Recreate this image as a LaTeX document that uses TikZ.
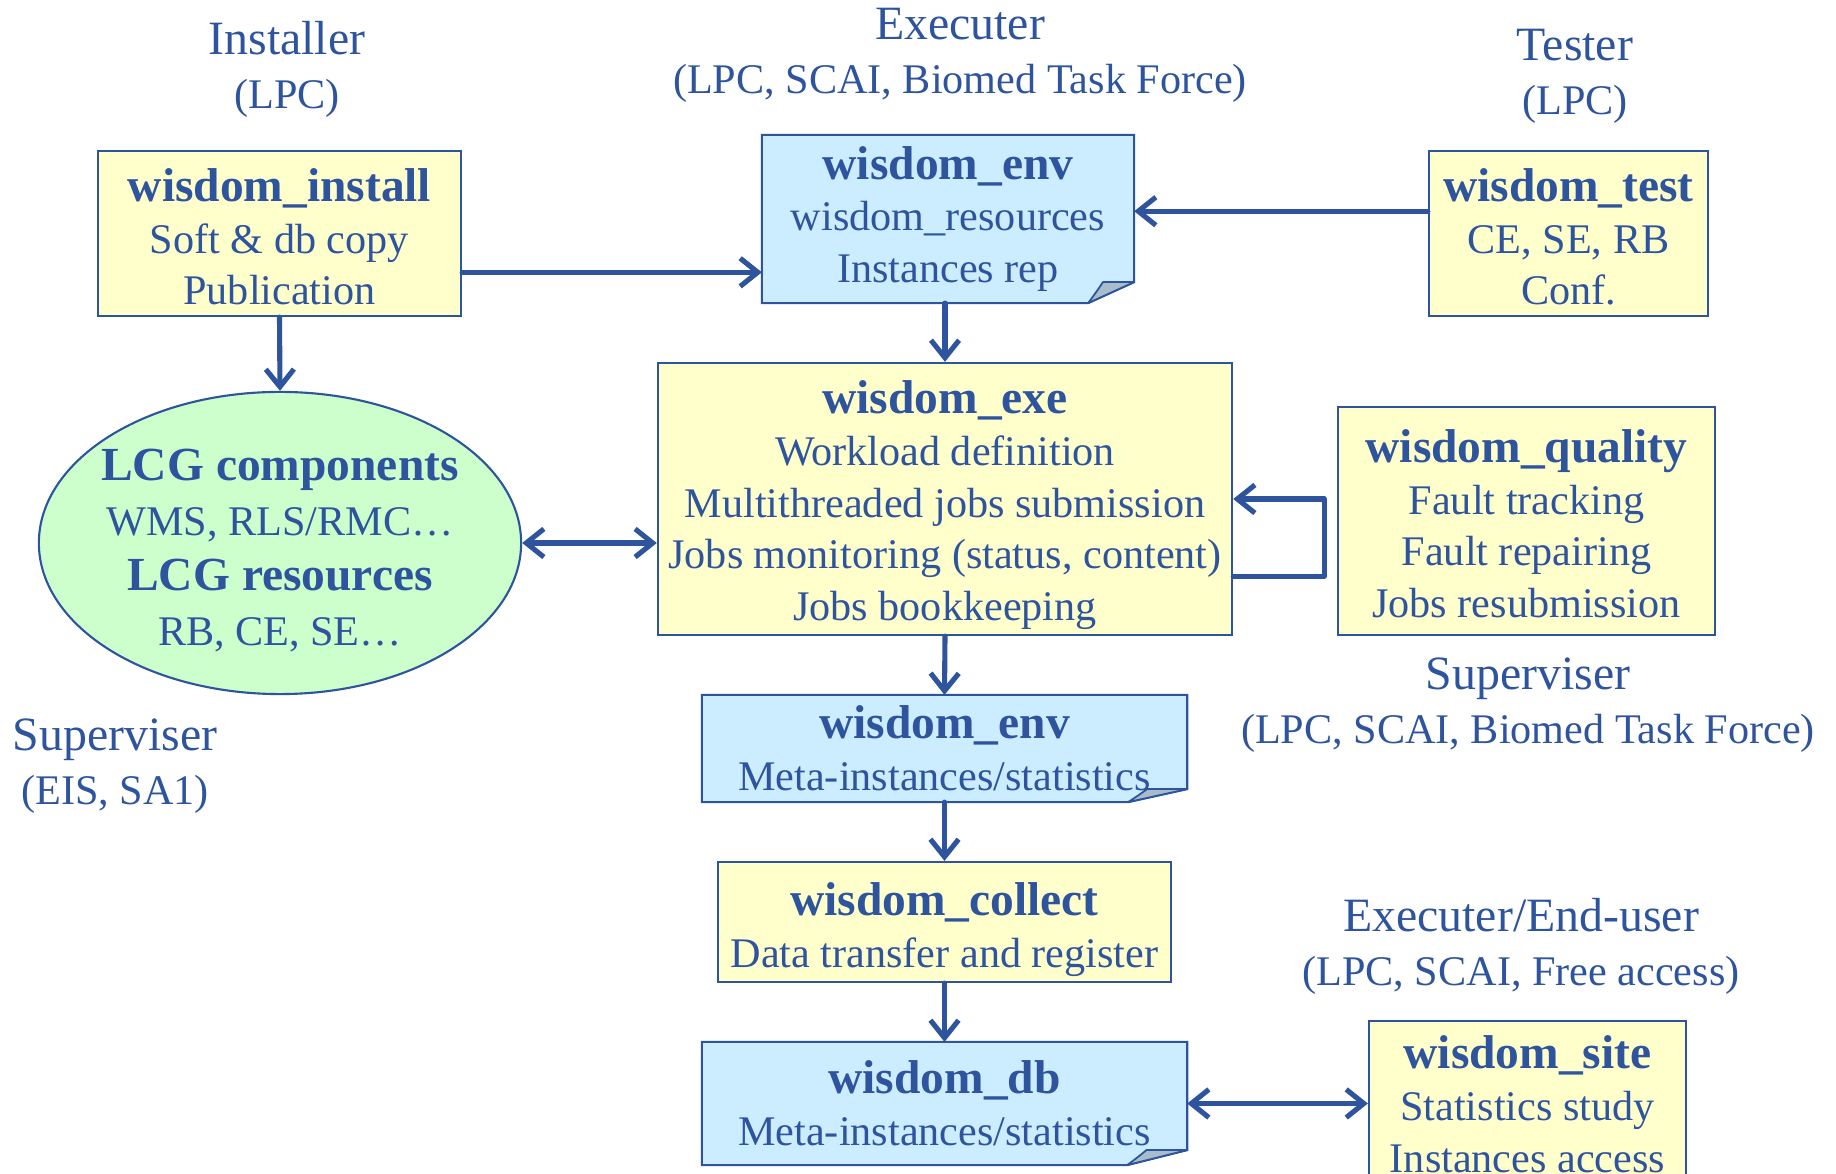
\documentclass[tikz,border=0pt]{standalone}
\usepackage{fontspec}
\setmainfont{Liberation Serif}
\usetikzlibrary{shapes,backgrounds,positioning,calc,arrows.meta}
\definecolor{wblue}{RGB}{46,84,158}
\definecolor{lightyellow}{RGB}{255,255,204}
\definecolor{lightblue}{RGB}{204,236,255}
\definecolor{lightgreen}{RGB}{204,255,204}
\definecolor{foldgray}{RGB}{168,188,204}
\tikzstyle{box}=[draw=wblue,fill=lightyellow,line width=0.6pt,inner sep=0pt,
  align=center,text=wblue,font=\fontsize{12}{14.7}\selectfont]
\tikzstyle{note}=[box,draw=none,fill=none]
\tikzstyle{blob}=[box,ellipse,fill=lightgreen,inner xsep=-0.1cm,inner ysep=-0.2cm,
  font=\fontsize{12}{15.6}\selectfont]
\tikzstyle{role}=[align=center,text=wblue,font=\fontsize{12}{15.4}\selectfont]
\tikzstyle{flow}=[wblue,line width=1.45pt,line cap=round,line join=round,
  -{Straight Barb[length=5pt,width=8pt]}]
\tikzstyle{both}=[flow,{Straight Barb[length=5pt,width=8pt]}-{Straight Barb[length=5pt,width=8pt]}]
% bold title line; the optional length pushes the text block down
\newcommand{\ttl}[2][0pt]{{\fontsize{13.5}{14.7}\selectfont\bfseries
  \rule{0pt}{\dimexpr 9.3pt+2\dimexpr#1\relax\relax}#2}}
\newcommand{\rolename}[1]{{\fontsize{13.6}{15.4}\selectfont #1}}
% note body with a folded corner, behind the text
\newcommand{\dogear}[3]{%
  \begin{pgfonlayer}{background}
    \filldraw[draw=wblue,fill=lightblue,line width=0.6pt]
      (#1.north west) -- (#1.north east) -- ($(#1.south east)+(0,-#3)$)
      -- ($(#1.south east)+(-#2,0)$) -- (#1.south west) -- cycle;
    \filldraw[draw=wblue,fill=foldgray,line width=0.5pt,line join=round]
      ($(#1.south east)+(-#2,0)$) .. controls ($(#1.south east)+(-0.8*#2,-0.6*#3)$)
      .. ($(#1.south east)+(-0.68*#2,-#3)$) -- ($(#1.south east)+(0,-#3)$) -- cycle;
  \end{pgfonlayer}}

\begin{document}
\begin{tikzpicture}[x=0.01cm, y=-0.01cm]
  \path[use as bounding box] (0,0) rectangle (1836,1174);
  \clip (0,0) rectangle (1836,1174);

  \node[box, minimum width=3.63cm, minimum height=1.65cm] (install) at (279.5,233.5)
    {\ttl[1pt]{wisdom\_install}\\Soft \& db copy\\Publication};
  \node[note, minimum width=3.70cm, minimum height=1.66cm] (envtop) at (948,219)
    {\ttl{wisdom\_env}\\wisdom\_resources\\Instances rep};
  \dogear{envtop}{46}{21}
  \node[box, minimum width=2.79cm, minimum height=1.65cm] (test) at (1568.5,233.5)
    {\ttl[1pt]{wisdom\_test}\\CE, SE, RB\\Conf.};
  \node[blob, minimum width=4.82cm, minimum height=3.02cm] (lcg) at (280,543)
    {\ttl[2pt]{LCG components}\\WMS, RLS/RMC…\\\ttl{LCG resources}\\RB, CE, SE…};
  \node[box, minimum width=5.74cm, minimum height=2.72cm] (exe) at (945,499)
    {\ttl[1.85pt]{wisdom\_exe}\\Workload definition\\Multithreaded jobs submission\\
     Jobs monitoring (status, content)\\Jobs bookkeeping};
  \node[box, minimum width=3.77cm, minimum height=2.28cm] (quality) at (1526.5,521)
    {\ttl[0.8pt]{wisdom\_quality}\\Fault tracking\\Fault repairing\\Jobs resubmission};
  \node[note, minimum width=4.83cm, minimum height=1.05cm] (envbot) at (944.5,748.5)
    {\ttl{wisdom\_env}\\Meta-instances/statistics};
  \dogear{envbot}{59}{13}
  \node[box, minimum width=4.53cm, minimum height=1.20cm] (collect) at (944.5,922)
    {\ttl[2.2pt]{wisdom\_collect}\\Data transfer and register};
  \node[note, minimum width=4.83cm, minimum height=1.21cm] (db) at (944.5,1103.5)
    {\ttl{wisdom\_db}\\Meta-instances/statistics};
  \dogear{db}{60}{15}
  \node[box, anchor=north, minimum width=3.17cm, minimum height=1.66cm] (site) at (1527.5,1020)
    {\ttl{wisdom\_site}\\Statistics study\\Instances access};

  \node[role] (installer) at (287,69)   {\rolename{Installer}\\(LPC)};
  \node[role] (executer)  at (960,55)   {\rolename{Executer}\\(LPC, SCAI, Biomed Task Force)};
  \node[role] (tester)    at (1575,76)  {\rolename{Tester}\\(LPC)};
  \node[role] (supright)  at (1528,705) {\rolename{Superviser}\\(LPC, SCAI, Biomed Task Force)};
  \node[role] (supleft)   at (115,766)  {\rolename{Superviser}\\(EIS, SA1)};
  \node[role] (enduser)   at (1521,946) {\rolename{Executer/End-user}\\(LPC, SCAI, Free access)};

  \draw[flow] (install.-12) -- (install.-12 -| envtop.west);
  \draw[flow] (test.171) -- (test.171 -| envtop.east);
  \draw[flow] (install.south) -- (lcg.north);
  \draw[flow] (exe.north |- envtop.south) -- (exe.north);
  \draw[both] (lcg.east) -- (lcg.east -| exe.west);
  \draw[flow] (exe.-15) -- ++(91,0) |- (exe.east);
  \draw[flow] (exe.south) -- (envbot.north);
  \draw[flow] (envbot.south) -- (collect.north);
  \draw[flow] (collect.south) -- (db.north);
  \draw[both] (db.east) -- (db.east -| site.west);
\end{tikzpicture}
\end{document}
